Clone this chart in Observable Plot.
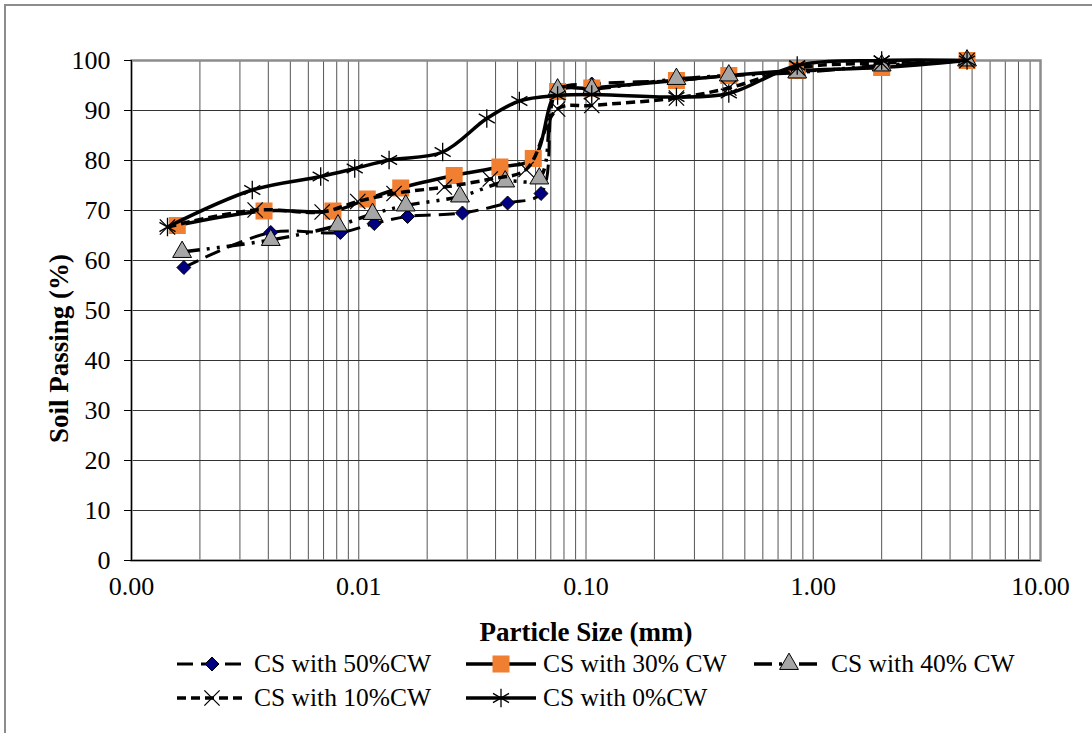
<!DOCTYPE html>
<html><head><meta charset="utf-8">
<script src="https://cdn.jsdelivr.net/npm/d3@7"></script>
<script src="https://cdn.jsdelivr.net/npm/@observablehq/plot@0.6"></script>
<style>
html,body{margin:0;padding:0;background:#fff;}
body{width:1092px;height:733px;position:relative;overflow:hidden;font-family:"Liberation Serif","Times New Roman",serif;}
#border{position:absolute;left:4px;top:4px;width:1200px;height:1000px;border:2px solid #8c8c8c;}
#chart{position:absolute;left:0;top:0;}
#legend{position:absolute;left:0;top:655px;width:1092px;height:78px;}
.item{position:absolute;display:flex;align-items:center;height:30px;font-size:25.5px;line-height:30px;color:#000;white-space:nowrap;}
.item svg{margin-right:6px;}
</style></head><body>
<div id="border"></div>
<div id="chart"></div>
<div id="legend"></div>
<script>
// ---- data (particle size in mm, percent passing) ----
const seriesNames = ["CS with 50%CW", "CS with 30% CW", "CS with 40% CW", "CS with 10%CW", "CS with 0%CW"];

const size50 = [0.0017, 0.0041, 0.0083, 0.0117, 0.0164, 0.0286, 0.0452, 0.0634, 0.075, 0.106, 0.25, 0.425, 0.85, 2.0, 4.75];
const pass50 = [58.6, 65.6, 65.6, 67.4, 68.8, 69.5, 71.5, 73.4, 94.0, 95.3, 96.0, 97.0, 97.8, 98.8, 100];

const size30 = [0.00159, 0.00383, 0.0077, 0.0109, 0.0153, 0.0263, 0.0418, 0.0586, 0.075, 0.106, 0.25, 0.425, 0.85, 2.0, 4.75];
const pass30 = [67.0, 69.9, 69.9, 72.3, 74.5, 77.0, 78.7, 80.4, 93.8, 94.5, 96.0, 97.0, 98.0, 98.6, 100];

const size40 = [0.00167, 0.0041, 0.0081, 0.0115, 0.0161, 0.0279, 0.0441, 0.0623, 0.075, 0.106, 0.25, 0.425, 0.85, 2.0, 4.75];
const pass40 = [61.7, 64.1, 67.0, 69.3, 71.0, 72.8, 75.8, 76.4, 94.2, 94.3, 96.3, 97.0, 97.6, 99.0, 100];

const size10 = [0.00144, 0.0035, 0.0069, 0.0099, 0.0143, 0.0238, 0.0379, 0.0545, 0.075, 0.106, 0.25, 0.425, 0.85, 2.0, 4.75];
const pass10 = [66.7, 70.1, 69.7, 71.8, 73.4, 74.7, 76.3, 78.2, 90.3, 91.0, 92.5, 94.5, 98.5, 99.5, 100];

const size0 = [0.00144, 0.0034, 0.0068, 0.0096, 0.0136, 0.0234, 0.0366, 0.0509, 0.075, 0.106, 0.25, 0.425, 0.85, 2.0, 4.75];
const pass0 = [66.7, 74.1, 76.8, 78.4, 80.1, 81.7, 88.4, 91.9, 93.0, 93.2, 92.7, 93.4, 99.0, 100, 100];

const xTickValues = [0.001, 0.01, 0.1, 1, 10];
const yTickValues = [0, 10, 20, 30, 40, 50, 60, 70, 80, 90, 100];
const xTitle = "Particle Size (mm)";
const yTitle = "Soil Passing (%)";

// ---- styles ----
const styles = [
  {symbol: "diamond2", r: 6.3, fill: "#000080", stroke: "#000", sw: 1, dash: "16,8", lw: 3},
  {symbol: "square", r: 9.6, fill: "#F07F32", stroke: "none", sw: 0, dash: null, lw: 3.5},
  {symbol: "triangle", r: 7.0, fill: "#A6A6A6", stroke: "#000", sw: 1, dash: "18,7,3,7,3,7", lw: 3.5},
  {symbol: "times", r: 7.0, fill: "none", stroke: "#000", sw: 1.3, dash: "9,5", lw: 3.5},
  {symbol: "asterisk", r: 8.8, fill: "none", stroke: "#000", sw: 1.3, dash: null, lw: 3.5}
];
const sizeArrays = [size50, size30, size40, size10, size0];
const passArrays = [pass50, pass30, pass40, pass10, pass0];

const series = seriesNames.map((name, i) => ({
  name, ...styles[i],
  data: sizeArrays[i].map((s, j) => ({size: s, pass: passArrays[i][j]}))
}));

const gridX = d3.range(-3, 1).flatMap(e => d3.range(1, 10).map(m => +(m * 10 ** e).toPrecision(3))).concat([10]);

const W = 1092, H = 655;
const marks = [
  Plot.ruleX(gridX, {stroke: "#555", strokeWidth: 1}),
  Plot.ruleY(yTickValues, {stroke: "#333", strokeWidth: 1}),
  Plot.frame({stroke: "#8c8c8c", strokeWidth: 2.5})
];
for (const s of series) {
  marks.push(Plot.line(s.data, {x: "size", y: "pass", curve: "catmull-rom", stroke: "#000", strokeWidth: s.lw,
    strokeDasharray: s.dash || undefined, strokeLinecap: "butt", strokeLinejoin: "round"}));
  marks.push(Plot.dot(s.data, {x: "size", y: "pass", symbol: () => s.symbol, r: s.r, fill: s.fill, stroke: s.stroke, strokeWidth: s.sw}));
}
marks.push(
  Plot.ruleX([xTickValues[0]], {stroke: "#000", strokeWidth: 1}),
  Plot.ruleY([yTickValues[0]], {stroke: "#000", strokeWidth: 1}),
  Plot.axisY({ticks: yTickValues, tickSize: 7, tickPadding: 14, label: null, fontSize: 26}),
  Plot.axisX({ticks: xTickValues, tickSize: 0, tickPadding: 16, tickFormat: d3.format(".2f"), label: null, fontSize: 26}),
  Plot.text([xTitle], {frameAnchor: "bottom", textAnchor: "middle", lineAnchor: "middle", dy: 72, fontWeight: "bold", fontSize: 27}),
  Plot.text([yTitle], {frameAnchor: "left", textAnchor: "middle", lineAnchor: "middle", dx: -72, dy: 38, rotate: -90, fontWeight: "bold", fontSize: 27})
);

const chart = Plot.plot({
  width: W, height: H,
  marginLeft: 131, marginRight: 52, marginTop: 60, marginBottom: H - 560,
  style: {fontFamily: "'Liberation Serif','Times New Roman',serif", fontSize: "26px", background: "transparent", color: "#000"},
  x: {type: "log", domain: [0.001, 10]},
  y: {domain: [0, 100]},
  symbol: {type: "identity"},
  marks
});
document.getElementById("chart").appendChild(chart);

// ---- legend ----
const legendPos = [[176, -6], [465, -6], [753, -6], [176, 28], [465, 28]];
const legend = document.getElementById("legend");
const symMap = {diamond2: d3.symbolDiamond2, square: d3.symbolSquare, triangle: d3.symbolTriangle, times: d3.symbolTimes, asterisk: d3.symbolAsterisk};
series.forEach((s, i) => {
  const div = document.createElement("div");
  div.className = "item";
  div.style.left = legendPos[i][0] + "px";
  div.style.top = legendPos[i][1] + "px";
  const path = d3.symbol(symMap[s.symbol], s.r * s.r * Math.PI)();
  const svg = `<svg width="72" height="30" viewBox="0 0 72 30">
    <line x1="1" y1="15" x2="71" y2="15" stroke="#000" stroke-width="${s.lw}" ${s.dash ? `stroke-dasharray="${s.dash}"` : ""}/>
    <path d="${path}" transform="translate(36,15)" fill="${s.fill}" stroke="${s.stroke}" stroke-width="${s.sw}"/>
  </svg>`;
  div.innerHTML = svg + `<span>${s.name}</span>`;
  legend.appendChild(div);
});
</script>
</body></html>
